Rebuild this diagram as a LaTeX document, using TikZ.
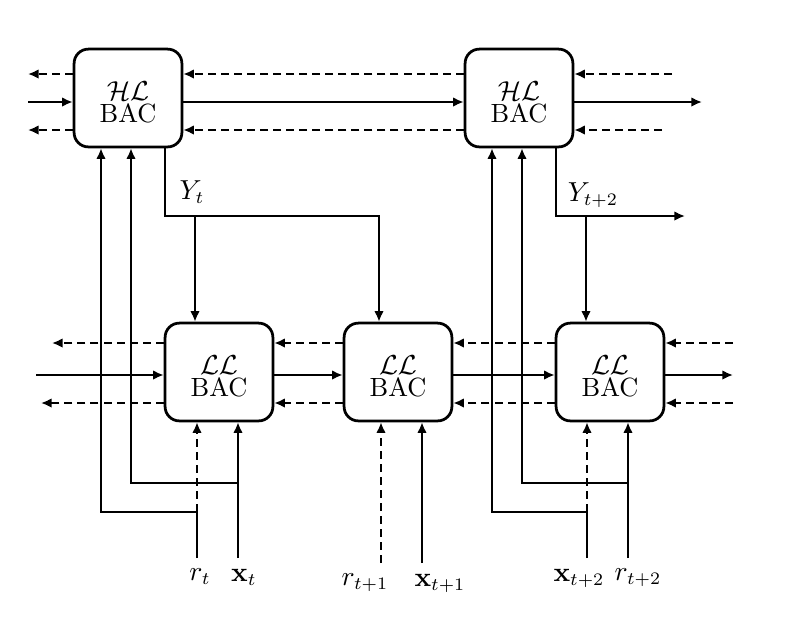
\documentclass[tikz,border=0pt]{standalone}
\usepackage{amsfonts,amssymb,amsmath}
\usepackage{tikz}
\usetikzlibrary{arrows.meta}

\newcommand{\bactext}[1]{\rule{0pt}{11pt}$\mathcal{#1}$\\[-3.5pt]BAC}

\begin{document}
\begin{tikzpicture}[
            x = 0.014cm, y = -0.014cm, % one unit per pixel of the scan
            > = {Latex[length=4.2pt, width=3.8pt]}, % arrow head style
            thick, % line style
            font = \fontsize{10.5}{12.6}\selectfont
        ]
        \tikzstyle{bac}=[
            draw = black,
            line width = 1.1pt,
            rounded corners = 2mm,
            fill = white,
            minimum width = 1.51cm,
            minimum height = 1.37cm,
            align = center
        ]
        \tikzstyle{fb}=[dash pattern = on 3.2pt off 2pt]
        \tikzstyle{lbl}=[anchor = north, inner sep = 4pt]

        \useasboundingbox (0,0) rectangle (789,619);

        % the blocks
        \node[bac] (HL1) at (128,98) {\bactext{HL}};
        \node[bac] (HL2) at (519,98) {\bactext{HL}};
        \node[bac] (LL1) at (219,372) {\bactext{LL}};
        \node[bac] (LL2) at (398,372) {\bactext{LL}};
        \node[bac] (LL3) at (610,372) {\bactext{LL}};

        % free ends on the left and right
        \coordinate (hlLa) at (28,74);
        \coordinate (hlLb) at (28,102);
        \coordinate (hlLc) at (28,130);
        \coordinate (hlRa) at (672,74);
        \coordinate (hlRb) at (702,102);
        \coordinate (hlRc) at (662,130);
        \coordinate (llLa) at (52,343);
        \coordinate (llLb) at (36,375);
        \coordinate (llLc) at (41,403);
        \coordinate (llRa) at (733,343);
        \coordinate (llRb) at (733,375);
        \coordinate (llRc) at (733,403);

        % upper level
        \draw[->, fb] (HL1.west |- hlLa) -- (hlLa);
        \draw[->] (hlLb) -- (HL1.west |- hlLb);
        \draw[->, fb] (HL1.west |- hlLc) -- (hlLc);
        \draw[->, fb] (HL2.west |- hlLa) -- (HL1.east |- hlLa);
        \draw[->] (HL1.east |- hlLb) -- (HL2.west |- hlLb);
        \draw[->, fb] (HL2.west |- hlLc) -- (HL1.east |- hlLc);
        \draw[->, fb] (hlRa) -- (HL2.east |- hlRa);
        \draw[->] (HL2.east |- hlRb) -- (hlRb);
        \draw[->, fb] (hlRc) -- (HL2.east |- hlRc);

        % lower level
        \draw[->, fb] (LL1.west |- llLa) -- (llLa);
        \draw[->] (llLb) -- (LL1.west |- llLb);
        \draw[->, fb] (LL1.west |- llLc) -- (llLc);
        \draw[->, fb] (LL2.west |- llLa) -- (LL1.east |- llLa);
        \draw[->] (LL1.east |- llLb) -- (LL2.west |- llLb);
        \draw[->, fb] (LL2.west |- llLc) -- (LL1.east |- llLc);
        \draw[->, fb] (LL3.west |- llLa) -- (LL2.east |- llLa);
        \draw[->] (LL2.east |- llLb) -- (LL3.west |- llLb);
        \draw[->, fb] (LL3.west |- llLc) -- (LL2.east |- llLc);
        \draw[->, fb] (llRa) -- (LL3.east |- llRa);
        \draw[->] (LL3.east |- llRb) -- (llRb);
        \draw[->, fb] (llRc) -- (LL3.east |- llRc);

        % goals sent down
        \coordinate (yt) at (195,216);
        \coordinate (ytt) at (586,216);
        \coordinate (yttend) at (685,216);
        \draw (HL1.south -| 165,0) |- (yt);
        \draw[->] (yt) -- (LL1.north -| yt);
        \draw[->] (yt) -| (LL2.north -| 379,0);
        \draw[->] (HL2.south -| 556,0) |- (yttend);
        \draw[->] (ytt) -- (LL3.north -| ytt);
        \node (ytlbl) at (192,192) {$Y_t$};
        \node (yttlbl) at (593,195) {$Y_{t+2}$};

        % inputs from below
        \node[lbl] (rt) at (200,558) {$r_t$};
        \node[lbl] (xt) at (244,558) {$\mathbf{x}_t$};
        \node[lbl] (rt1) at (365,563) {$r_{t+1}$};
        \node[lbl] (xt1) at (440,563) {$\mathbf{x}_{t+1}$};
        \node[lbl] (xt2) at (579,558) {$\mathbf{x}_{t+2}$};
        \node[lbl] (rt2) at (638,558) {$r_{t+2}$};

        \coordinate (rtj) at (197,512);
        \coordinate (xtj) at (238,483);
        \coordinate (rt1j) at (381,483);
        \coordinate (xt1j) at (422,483);
        \coordinate (xt2j) at (587,512);
        \coordinate (rt2j) at (628,483);

        \draw (rt.north -| rtj) -- (rtj);
        \draw[->, fb] (rtj) -- (LL1.south -| rtj);
        \draw[->] (rtj) -| (HL1.south -| 101,0);
        \draw[->] (xt.north -| xtj) -- (LL1.south -| xtj);
        \draw[->] (xtj) -| (HL1.south -| 131,0);

        \draw[->, fb] (rt1.north -| rt1j) -- (LL2.south -| rt1j);
        \draw[->] (xt1.north -| xt1j) -- (LL2.south -| xt1j);

        \draw (xt2.north -| xt2j) -- (xt2j);
        \draw[->, fb] (xt2j) -- (LL3.south -| xt2j);
        \draw[->] (xt2j) -| (HL2.south -| 492,0);
        \draw[->] (rt2.north -| rt2j) -- (LL3.south -| rt2j);
        \draw[->] (rt2j) -| (HL2.south -| 522,0);
    \end{tikzpicture}
\end{document}
